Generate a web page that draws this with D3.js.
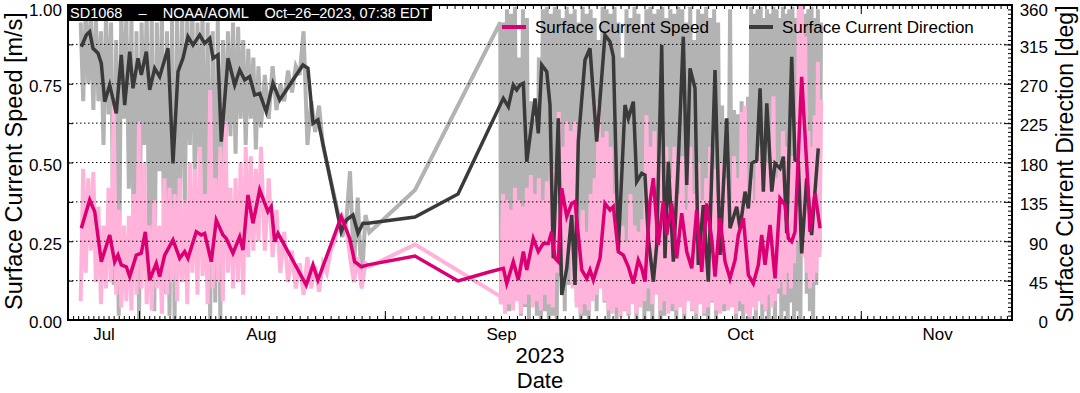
<!DOCTYPE html>
<html>
<head>
<meta charset="utf-8">
<script src="https://cdn.jsdelivr.net/npm/d3@7"></script>
<style>
    body{margin:0;background:#fff;}
    text{font-family:"Liberation Sans",Arial,Helvetica,sans-serif;}
</style>
</head>
<body>
<div id="chart"></div>
<script>
/*
    surface current speed / direction of saildrone SD1068
    times are days since 2023-07-01 00:00
 */

// 0.data
// daily-ish averaged speed (m/s)
var speedDays=[-4.37,-2.72,-1.73,-0.43,1.22,2.20,2.85,3.50,4.49,5.16,6.46,7.44,8.23,9.09,10.39,11.06,12.05,13.68,15.0,15.98,
    16.63,18.27,19.25,19.92,21.22,22.20,23.52,24.17,25.49,26.81,27.46,28.44,29.43,30.75,
    31.90,32.33,32.77,33.20,36.85,37.72,38.36,41.37,42.46,43.10,43.96,44.82,50.89,56.45,60.58,
    62.29,62.72,63.54,64.17,64.80,65.23,66.05,66.68,67.31,67.94,68.36,68.78,69.19,69.62,70.25,70.87,71.29,72.13,72.76,73.17,
    73.59,74.43,75.05,75.68,76.10,76.72,77.35,77.98,78.61,79.23,79.66,80.07,80.70,81.12,81.74,82.37,82.80,83.43,84.05,84.68,
    85.31,85.94,86.56,87.19,87.82,88.44,88.86,89.49,90.12,90.74,91.37,91.79,
    92.52,93.31,94.09,94.88,95.41,95.93,96.72,97.51,98.29,99.08,99.60,100.13,100.65,101.70,102.74,103.01,103.80,104.59];
var speedValues=[0.291,0.381,0.344,0.185,0.27,0.185,0.206,0.175,0.169,0.138,0.206,0.212,0.28,0.127,0.18,0.138,0.206,0.254,0.196,0.217,
    0.196,0.28,0.27,0.275,0.185,0.317,0.27,0.259,0.212,0.264,0.222,0.397,0.307,0.413,
    0.344,0.36,0.249,0.275,0.111,0.175,0.127,0.328,0.259,0.185,0.169,0.175,0.203,0.124,0.153,
    0.164,0.116,0.185,0.127,0.217,0.159,0.259,0.217,0.243,0.243,0.28,0.196,0.185,0.418,0.328,0.37,0.376,0.159,0.132,0.159,
    0.127,0.196,0.37,0.349,0.36,0.217,0.206,0.169,0.116,0.19,0.164,0.122,0.376,0.45,0.238,0.376,0.27,0.37,0.196,0.339,
    0.217,0.164,0.349,0.153,0.37,0.259,0.138,0.323,0.185,0.132,0.19,0.27,
    0.323,0.143,0.116,0.175,0.27,0.175,0.302,0.132,0.386,0.365,0.259,0.249,0.28,0.772,0.407,0.28,0.402,0.291];

// daily-ish averaged direction (deg)
var dirDays=[-4.37,-3.39,-2.72,-2.07,-1.08,-0.43,0.24,1.22,2.52,3.50,4.17,5.16,5.81,6.79,7.44,8.43,9.09,10.08,11.06,12.70,
    13.68,14.67,15.65,16.63,17.62,18.94,19.92,20.91,21.56,22.54,23.19,24.51,25.83,26.81,27.80,28.78,29.76,30.75,
    31.68,32.55,33.42,36.42,37.07,37.72,38.36,41.37,42.02,42.88,43.53,44.17,44.82,50.89,56.45,
    62.29,62.92,63.54,63.97,64.38,64.80,65.23,66.27,66.68,67.11,67.74,68.15,68.56,69.19,69.62,70.25,70.87,71.29,71.70,72.54,
    73.17,74.01,75.05,75.68,76.10,76.72,77.56,77.98,78.61,79.03,79.66,80.07,80.49,81.12,81.54,82.17,82.58,83.00,83.63,84.25,
    84.88,85.31,85.72,86.35,86.76,87.39,88.02,88.86,89.49,90.33,90.74,91.58,
    92.0,92.79,93.31,93.84,94.63,95.15,95.67,96.21,96.99,97.51,98.29,98.82,99.35,100.13,100.65,101.17,101.70,102.49,103.27,104.31];
var dirValues=[312.3,325.7,329.5,310.5,304.8,293.3,249.5,268.6,236.2,302.9,245.7,306.7,264.8,299.1,280,306.7,262.9,287.6,278.1,310.5,
    179,283.8,299.1,323.8,314.3,325.7,316.2,321.9,299.1,302.9,203.8,299.1,268.6,285.7,274.3,278.1,257.1,259,
    238.1,270.5,251.4,291.4,287.6,224.8,228.6,100.9,114.3,120,99.1,110.5,110.5,117.7,144,
    253.3,243.8,268.6,262.9,268.6,270.5,180.9,253.3,213.3,291.4,283.8,245.7,70.5,230.5,28.6,59,120,40,203.8,297.1,
    310.5,203.8,325.7,318.1,300.9,80,245.7,230.5,249.5,158.1,167.6,165.7,93.3,43.8,85.7,314.3,70.5,180.9,66.7,180.9,
    323.8,154.3,287.6,264.8,62.9,131.4,43.8,285.7,74.3,230.5,104.8,129.5,
    104.8,146.7,127.6,179,182.9,264.8,146.7,247.6,146.7,179,173.3,186.7,99.1,300.9,182.9,180.9,76.2,161.9,97.1,196.2];

// raw samples: every 12 h until mid Aug, two points in the gap, then every 6 h from Sep 1
var rawDays=d3.range(100).map(function(i){return -4.5+i*0.5;})
    .concat([50.9,61.9])
    .concat(d3.range(172).map(function(i){return 62+i*0.25;}));
var rawSpeed=[0.06,0.48,0.15,0.45,0.22,0.47,0.12,0.36,0.05,0.30, 0.10,0.42,0.12,0.68,0.08,0.35,0.04,0.30,0.06,0.33,
    0.03,0.40,0.08,0.63,0.10,0.50,0.05,0.30,0.03,0.38, 0.10,0.30,0.02,0.45,0.08,0.42,0.12,0.40,0.06,0.45,
    0.12,0.38,0.05,0.50,0.15,0.48,0.08,0.55,0.14,0.40, 0.05,0.73,0.10,0.45,0.12,0.55,0.06,0.63,0.15,0.42,
    0.10,0.45,0.12,0.50,0.08,0.55,0.20,0.52,0.22,0.48, 0.25,0.55,0.22,0.45,0.20,0.35,0.15,0.28,0.12,0.22,
    0.10,0.18,0.08,0.20,0.10,0.17,0.09,0.18,0.15,0.22, 0.25,0.30,0.33,0.30,0.20,0.12,0.20,0.10,0.18,0.17,
    0.24,0.075,
    0.05,0.40, 0.02,0.38, 0.05,0.35, 0.03,0.42, 0.06,0.38, 0.02,0.36, 0.05,0.42, 0.08,0.46, 0.04,0.40, 0.06,0.45,
    0.03,0.38, 0.08,0.44, 0.05,0.50, 0.04,0.48, 0.15,0.66, 0.18,0.55, 0.12,0.63, 0.20,0.60, 0.10,0.63, 0.04,0.30,
    0.02,0.35, 0.05,0.28, 0.03,0.40, 0.06,0.45, 0.08,0.69, 0.10,0.58, 0.06,0.60, 0.03,0.55, 0.02,0.40, 0.04,0.35,
    0.01,0.30, 0.03,0.25, 0.02,0.40, 0.05,0.30, 0.02,0.28, 0.04,0.32, 0.06,0.65, 0.10,0.55, 0.05,0.60, 0.08,0.50,
    0.03,0.60, 0.06,0.55, 0.02,0.45, 0.05,0.55, 0.03,0.40, 0.04,0.52, 0.02,0.35, 0.06,0.55, 0.03,0.40, 0.02,0.50,
    0.05,0.38, 0.02,0.45, 0.04,0.55, 0.06,0.48, 0.03,0.40, 0.02,0.50, 0.05,0.45, 0.03,0.38, 0.04,0.52, 0.02,0.45,
    0.06,0.66, 0.05,0.68, 0.02,0.40, 0.01,0.45, 0.04,0.38, 0.03,0.50, 0.06,0.55, 0.05,0.45, 0.03,0.50, 0.08,0.48,
    0.04,0.71, 0.06,0.45, 0.10,0.50, 0.12,0.60, 0.08,0.55, 0.15,0.48, 0.10,0.52, 0.18,0.60, 0.25,1.0, 0.30,1.0,
    0.20,0.90, 0.15,0.60, 0.10,0.55, 0.12,0.65, 0.15,0.82, 0.20,0.70];
var rawDir=[340,250,355,270,350,240,345,250,330,200, 350,235,340,40,320,5,355,230,350,150,
    345,60,330,0,340,200,355,80,350,10, 340,170,355,30,330,5,350,0,345,140,
    355,130,350,200,358,150,340,180,355,60, 340,0,330,20,345,0,320,200,330,210,
    340,190,335,230,320,200,310,230,300,195, 290,220,280,230,290,240,270,250,285,260,
    290,280,330,200,250,215,245,200,180,160, 140,120,95,110,170,60,140,40,120,100,
    148.6,340,
    20,340, 60,355, 10,350, 90,358, 30,300, 5,355, 15,345, 0,250, 120,230, 5,300,
    0,355, 10,358, 0,350, 5,358, 0,355, 50,345, 10,358, 40,350, 100,355, 20,340,
    0,358, 5,350, 0,355, 60,345, 10,320, 40,358, 20,355, 0,350, 30,358, 0,340,
    60,300, 10,355, 5,345, 40,358, 0,350, 20,330, 0,355, 10,358, 0,350, 30,355,
    0,358, 5,345, 60,355, 10,350, 0,358, 20,355, 0,340, 30,358, 10,320, 0,355,
    60,350, 5,358, 0,345, 20,355, 0,340, 30,245, 10,230, 60,355, 20,240, 0,235,
    10,250, 0,240, 30,255, 0,358, 15,350, 0,355, 40,358, 0,345, 10,355, 0,350,
    20,358, 0,355, 30,345, 0,358, 10,350, 0,355, 20,358, 0,345, 10,355, 0,358,
    80,350, 30,355, 10,358, 0,345, 40,355, 80,340];

// axis: month starts and the long ticks (days since Jul 1)
var monthDays=[0,31,62,92,123];
var longTickDays=[7,47,111];
var axisAnchorDays=[-7,0,31,62,92,123,134.8];
var axisAnchorFrac=[0,0.0376,0.2044,0.4587,0.7119,0.9206,1];
var speedTicks=[0,0.25,0.5,0.75,1];
var dirTicks=[0,45,90,135,180,225,270,315,360];

// 0.1.size
var margin = {top: 5, right: 68, bottom: 73, left: 68};
var svgBGW=1080;
var svgBGH=393;
var svgW = svgBGW - margin.left - margin.right;
var svgH = svgBGH - margin.top - margin.bottom;

// 0.2.color
var colSpeed="#da0074", colSpeedRaw="#ffb3da", colDir="#3a3a3a", colDirRaw="#b3b3b3";

var day0=new Date(2023,6,1);
function toDate(d){ return new Date(day0.getTime()+d*864e5); }

// 1.scales
var xScale=d3.scaleTime()
    .domain(axisAnchorDays.map(toDate))
    .range(axisAnchorFrac.map(function(f){return f*svgW;}));
var ySpeed=d3.scaleLinear().domain([0,1]).range([svgH,0]);
var yDir=d3.scaleLinear().domain([0,360]).range([svgH,0]);

// 2.DOM
var svgBG=d3.select("#chart").append("svg").attr("width",svgBGW).attr("height",svgBGH);
var svg=svgBG.append("g")
    .attr("transform","translate("+margin.left+","+margin.top+")");

svg.append("clipPath").attr("id","plotClip")
    .append("rect").attr("width",svgW).attr("height",svgH);

var plot=svg.append("g").attr("clip-path","url(#plotClip)");

function series(days,vals){
    return days.map(function(d,i){return {t:toDate(d),v:vals[i]};});
}
var lineSpeed=d3.line().x(function(d){return xScale(d.t);}).y(function(d){return ySpeed(d.v);});
var lineDir=d3.line().x(function(d){return xScale(d.t);}).y(function(d){return yDir(d.v);});

plot.append("path").datum(series(rawDays,rawDir))
    .attr("fill","none").attr("stroke",colDirRaw).attr("stroke-width",4).attr("d",lineDir);
plot.append("path").datum(series(rawDays,rawSpeed))
    .attr("fill","none").attr("stroke",colSpeedRaw).attr("stroke-width",4).attr("d",lineSpeed);

// grid
plot.append("g").selectAll("line")
    .data(dirTicks.slice(1,-1))
    .enter().append("line")
    .attr("x1",0).attr("x2",svgW)
    .attr("y1",function(d){return yDir(d);}).attr("y2",function(d){return yDir(d);})
    .attr("stroke","#000").attr("stroke-width",1).attr("stroke-dasharray","1.5,2.5");

plot.append("path").datum(series(dirDays,dirValues))
    .attr("fill","none").attr("stroke",colDir).attr("stroke-width",3.5).attr("d",lineDir);
plot.append("path").datum(series(speedDays,speedValues))
    .attr("fill","none").attr("stroke",colSpeed).attr("stroke-width",3.5).attr("d",lineSpeed);

// 3.axes
var allDays=d3.timeDay.range(toDate(-7),toDate(134.8));
function noDomain(g){ g.select(".domain").remove(); }
function fontAxis(g){ g.attr("font-size",17).attr("font-family","'Liberation Sans',Arial,sans-serif"); }

svg.append("g").attr("transform","translate(0,"+svgH+")")
    .call(d3.axisBottom(xScale).tickValues(allDays).tickSize(-4).tickFormat("")).call(noDomain);
svg.append("g").attr("transform","translate(0,"+svgH+")")
    .call(d3.axisBottom(xScale).tickValues(longTickDays.map(toDate)).tickSize(-9).tickFormat("")).call(noDomain);
svg.append("g")
    .call(d3.axisTop(xScale).tickValues(allDays).tickSize(-4).tickFormat("")).call(noDomain);
svg.append("g")
    .call(d3.axisTop(xScale).tickValues(longTickDays.map(toDate)).tickSize(-9).tickFormat("")).call(noDomain);
svg.append("g").attr("transform","translate(0,"+svgH+")")
    .call(d3.axisBottom(xScale).tickValues(monthDays.map(toDate)).tickSize(0).tickPadding(8)
        .tickFormat(d3.timeFormat("%b")))
    .call(noDomain).call(fontAxis);

// top label sits a little lower so it stays inside the page
function labelDy(top){ return function(d){ return d===top ? "0.62em" : "0.46em"; }; }

svg.append("g")
    .call(d3.axisLeft(ySpeed).tickValues(d3.range(0,1.001,0.125)).tickSize(-5).tickFormat("")).call(noDomain);
svg.append("g")
    .call(d3.axisLeft(ySpeed).tickValues(speedTicks).tickSize(0).tickPadding(6).tickFormat(d3.format(".2f")))
    .call(noDomain).call(fontAxis)
    .selectAll("text").attr("dy",labelDy(1));

svg.append("g").attr("transform","translate("+svgW+",0)")
    .call(d3.axisRight(yDir).tickValues(d3.range(0,361,5)).tickSize(-4).tickFormat("")).call(noDomain);
svg.append("g").attr("transform","translate("+svgW+",0)")
    .call(d3.axisRight(yDir).tickValues(dirTicks).tickSize(-8).tickFormat("")).call(noDomain);
svg.append("g").attr("transform","translate("+svgW+",0)")
    .call(d3.axisRight(yDir).tickValues(dirTicks).tickSize(0).tickPadding(36))
    .call(noDomain).call(fontAxis)
    .selectAll("text").attr("text-anchor","end").attr("dy",labelDy(360));

svg.append("rect").attr("width",svgW).attr("height",svgH)
    .attr("fill","none").attr("stroke","#000").attr("stroke-width",2);

// 4.titles
svgBG.append("text").attr("transform","translate(22,161) rotate(-90)")
    .attr("text-anchor","middle").attr("font-size",23.5).text("Surface Current Speed [m/s]");
svgBG.append("text").attr("transform","translate(1073,164) rotate(-90)")
    .attr("text-anchor","middle").attr("font-size",23).text("Surface Current Direction [deg]");
svgBG.append("text").attr("x",margin.left+svgW/2).attr("y",363)
    .attr("text-anchor","middle").attr("font-size",22).text("2023");
svgBG.append("text").attr("x",margin.left+svgW/2).attr("y",387.5)
    .attr("text-anchor","middle").attr("font-size",22).text("Date");

// title bar
var titleBox=svg.append("rect").attr("x",0).attr("y",0).attr("height",16).attr("fill","#000");
var titleText=svg.append("text").attr("x",2).attr("y",13)
    .attr("fill","#fff").attr("font-size",14.5).style("white-space","pre")
    .text("SD1068    \u2013    NOAA/AOML    Oct\u201326\u20132023, 07:38 EDT");
titleBox.attr("width",titleText.node().getComputedTextLength()+5);

// legend
var legendKeys=[
    {name:"Surface Current Speed",color:colSpeed,x:434},
    {name:"Surface Current Direction",color:colDir,x:681}
];
var legend=svg.append("g").selectAll("g")
    .data(legendKeys)
    .enter().append("g")
    .attr("transform",function(d){return "translate("+d.x+",22)";});
legend.append("line").attr("x1",0).attr("x2",24)
    .attr("stroke",function(d){return d.color;}).attr("stroke-width",4);
legend.append("text").attr("x",33).attr("y",6).attr("font-size",17)
    .text(function(d){return d.name;});
</script>
</body>
</html>
